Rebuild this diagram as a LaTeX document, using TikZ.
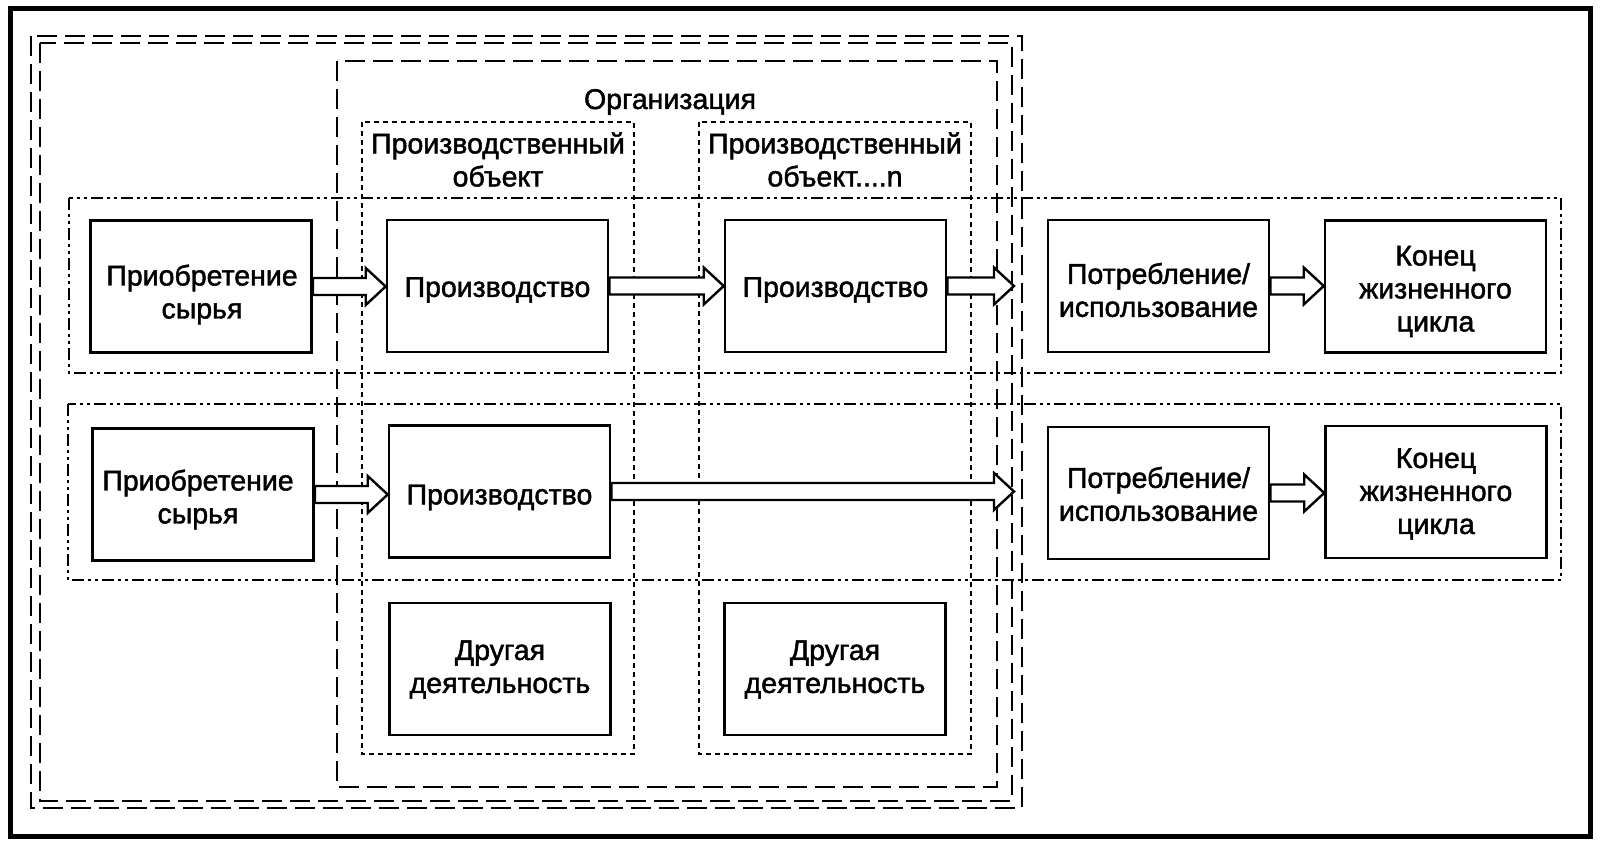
\documentclass[tikz,border=0pt]{standalone}
\usepackage{fontspec}
\setmainfont{Liberation Sans}[RawFeature={embolden=1.6}]
\usetikzlibrary{calc}
\begin{document}
\begin{tikzpicture}[x=1pt,y=-1pt,
  txt/.style={font=\fontsize{28.5}{33}\selectfont, align=center, inner sep=0pt},
  box/.style={draw, line width=2.6pt, minimum width=221pt, minimum height=132pt, inner sep=0pt},
  longdash/.style={line width=2.5pt, dash pattern=on 20pt off 8pt},
  shortdash/.style={line width=2.3pt, dash pattern=on 5pt off 4pt},
  rowline/.style={line width=2.3pt, dash pattern=on 12pt off 4pt on 3pt off 4pt on 3pt off 4pt},
  blk/.style={draw, fill=white, line width=2.4pt, line join=miter}
]
\useasboundingbox (0,0) rectangle (1601,845);
\fill[white] (0,0) rectangle (1601,845);
% outer frame
\draw[line width=5pt] (10,9) rectangle (1590,836);
% containers
\draw[longdash] (31,36) rectangle (1022,808);
\draw[longdash] (40,43) rectangle (1012,801);
\draw[longdash] (337,61) rectangle (997,787);
\draw[shortdash] (362,122) rectangle (634,754);
\draw[shortdash] (699,122) rectangle (971,754);
\draw[rowline] (69,198) rectangle (1561,373);
\draw[rowline] (68,404) rectangle (1561,580);
% titles
\node[txt] (org) at (670,102) {Организация};
\node[txt] (po1t) at (498,159.5) {Производственный\\объект};
\node[txt] (pont) at (835,159.5) {Производственный\\объект....n};
% boxes row 1
\node[box] (p1) at (201,286.5) {};
\node[box] (m1) at (497.5,286) {};
\node[box] (n1) at (835.5,286) {};
\node[box] (u1) at (1158.5,286) {};
\node[box] (e1) at (1435.5,286.5) {};
% boxes row 2
\node[box] (p2) at (203,494.5) {};
\node[box] (m2) at (499.5,491.5) {};
\node[box] (u2) at (1158.5,493) {};
\node[box] (e2) at (1436,492) {};
% other activity
\node[box] (o1) at (500,669) {};
\node[box] (o2) at (835,669) {};
% box texts
\node[txt] (p1t) at ($(p1)+(1,8)$) {Приобретение\\сырья};
\node[txt] (m1t) at ($(m1)+(0,4)$) {Производство};
\node[txt] (n1t) at ($(n1)+(0,4)$) {Производство};
\node[txt] (u1t) at ($(u1)+(0,4)$) {Потребление/\\использование};
\node[txt] (e1t) at ($(e1)+(0,5)$) {Конец\\жизненного\\цикла};
\node[txt] (p2t) at ($(p2)+(-5,5)$) {Приобретение\\сырья};
\node[txt] (m2t) at ($(m2)+(0,6)$) {Производство};
\node[txt] (u2t) at ($(u2)+(0,1)$) {Потребление/\\использование};
\node[txt] (e2t) at ($(e2)+(0,2)$) {Конец\\жизненного\\цикла};
\node[txt] (o1t) at ($(o1)+(0,0.5)$) {Другая\\деятельность};
\node[txt] (o2t) at ($(o2)+(0,0.5)$) {Другая\\деятельность};
% free ends
\coordinate (t1) at (1014,286.5);
\coordinate (t2) at (1014,491.5);
% block arrows
\newcommand\blockarrow[2]{%
  \draw[blk] let \p1=(#1), \p2=(#2) in
    (\x1,\y1+8.5) -- (\x2-20,\y1+8.5) -- (\x2-20,\y1+18.5) -- (\x2,\y1)
    -- (\x2-20,\y1-18.5) -- (\x2-20,\y1-8.5) -- (\x1,\y1-8.5) -- cycle;}
\blockarrow{p1.east}{m1.west}
\blockarrow{m1.east}{n1.west}
\blockarrow{n1.east}{t1}
\blockarrow{u1.east}{e1.west}
\blockarrow{p2.east}{m2.west}
\blockarrow{m2.east}{t2}
\blockarrow{u2.east}{e2.west}
\end{tikzpicture}
\end{document}
